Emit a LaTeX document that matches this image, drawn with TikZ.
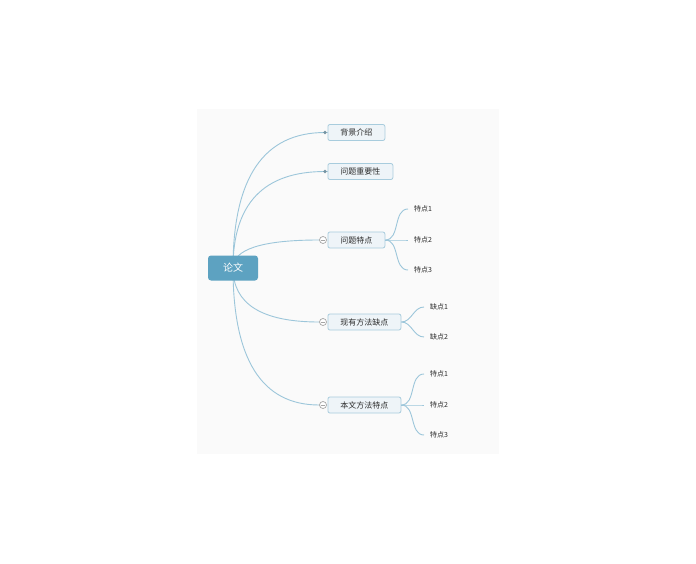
\documentclass[tikz,border=0pt]{standalone}
\usepackage{fontspec}
\newfontfamily\cjkfont{Noto Sans CJK SC}
\usetikzlibrary{calc}
\definecolor{rootblue}{HTML}{5DA2C1}
\definecolor{linkblue}{HTML}{9CC6DA}
\definecolor{topicfill}{HTML}{EEF4F8}
\definecolor{topicline}{HTML}{A8CCDD}
\definecolor{panelgray}{HTML}{FAFAFA}
\definecolor{foldgray}{HTML}{A5A5A5}
\definecolor{inkgray}{HTML}{2B2B2B}
\pgfdeclarelayer{panel}
\pgfdeclarelayer{links}
\pgfsetlayers{panel,links,main}
\tikzset{
  root/.style={fill=rootblue, rounded corners=3pt, text=white,
    font=\cjkfont\fontsize{10}{12}\selectfont,
    minimum width=50pt, minimum height=25pt, inner sep=0pt},
  topic/.style={anchor=west, draw=topicline, fill=topicfill, line width=0.8pt,
    rounded corners=2pt, text=inkgray, font=\cjkfont\fontsize{8}{10}\selectfont,
    inner xsep=12.5pt, inner ysep=0pt, minimum height=16pt},
  leaf/.style={anchor=west, text=inkgray, font=\cjkfont\fontsize{7}{9}\selectfont,
    inner xsep=6pt, inner ysep=1pt},
  link/.style={draw=linkblue, line width=0.9pt},
  mainlink/.style={link, to path={.. controls
    ($(\tikztostart)!.667!(\tikztostart |- \tikztotarget)$) and
    ($(\tikztotarget)!.667!(\tikztostart |- \tikztotarget)$) .. (\tikztotarget)}},
  sublink/.style={link, out=0, in=180},
  fold/.style={circle, draw=foldgray, fill=white, line width=0.7pt,
    inner sep=0pt, minimum size=7pt,
    path picture={\draw[foldgray, line width=0.6pt]
      ([xshift=-2.2pt]path picture bounding box.center) --
      ([xshift=2.2pt]path picture bounding box.center);}},
  dot/.style={circle, fill=linkblue!75!black, inner sep=0pt, minimum size=3.6pt}
}
\begin{document}
\begin{tikzpicture}[x=1pt, y=-1pt]
  \useasboundingbox (0,0) rectangle (696,564);
  \begin{pgfonlayer}{panel}
    \fill[panelgray] (197,109) rectangle (499,454);
  \end{pgfonlayer}

  % topics
  \node[root] (paper) at (233,268) {论文};
  \node[topic] (bg)   at (327.5,132.5) {背景介绍};
  \node[topic] (imp)  at (327.5,171.5) {问题重要性};
  \node[topic] (feat) at (327.5,240)   {问题特点};
  \node[topic] (lack) at (327.5,322)   {现有方法缺点};
  \node[topic] (ours) at (327.5,405)   {本文方法特点};

  % markers
  \node[dot]  (bgd)  at (325,132.5) {};
  \node[dot]  (impd) at (325,171.5) {};
  \node[fold] (featf) at (323,240) {};
  \node[fold] (lackf) at (323,322) {};
  \node[fold] (oursf) at (323,405) {};

  % leaves
  \node[leaf] (feat1) at (408,209) {特点1};
  \node[leaf] (feat2) at (408,240) {特点2};
  \node[leaf] (feat3) at (408,270) {特点3};
  \node[leaf] (lack1) at (424,307) {缺点1};
  \node[leaf] (lack2) at (424,337) {缺点2};
  \node[leaf] (ours1) at (424,374) {特点1};
  \node[leaf] (ours2) at (424,405) {特点2};
  \node[leaf] (ours3) at (424,435) {特点3};

  \begin{pgfonlayer}{links}
    \draw[mainlink] (paper.center) to (bgd.center);
    \draw[mainlink] (paper.center) to (impd.center);
    \draw[mainlink] (paper.center) to (featf.west);
    \draw[mainlink] (paper.center) to (lackf.west);
    \draw[mainlink] (paper.center) to (oursf.west);
    \draw[link] (bgd) -- (bg.west);
    \draw[link] (impd) -- (imp.west);
  \end{pgfonlayer}
  \begin{scope}[sublink]
    \draw (feat.east) to (feat1.west);
    \draw (feat.east) to (feat2.west);
    \draw (feat.east) to (feat3.west);
    \draw (lack.east) to (lack1.west);
    \draw (lack.east) to (lack2.west);
    \draw (ours.east) to (ours1.west);
    \draw (ours.east) to (ours2.west);
    \draw (ours.east) to (ours3.west);
  \end{scope}
\end{tikzpicture}
\end{document}
